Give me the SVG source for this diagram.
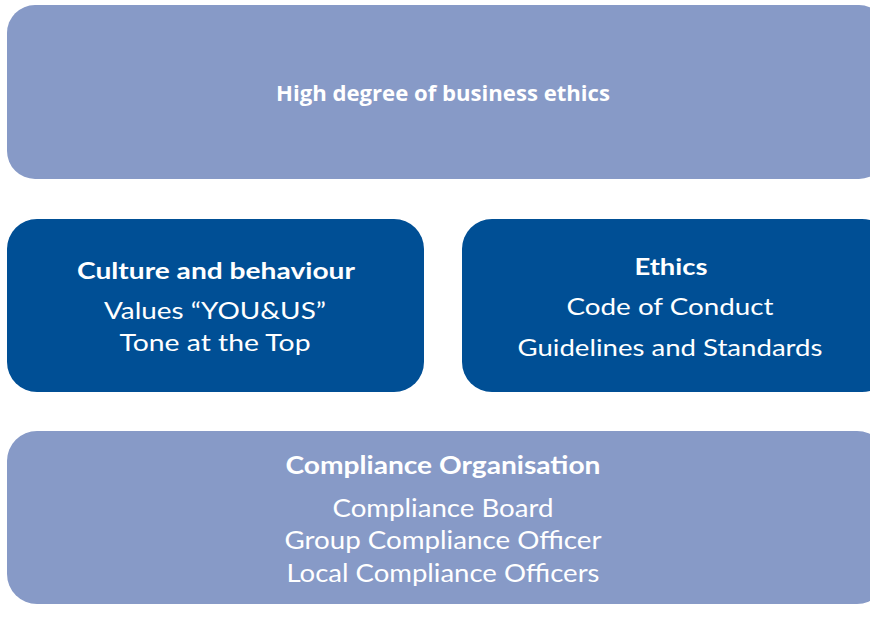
<svg xmlns="http://www.w3.org/2000/svg" width="870" height="623" viewBox="0 0 870 623">
  <style>
    .light { fill: #879AC7; }
    .dark { fill: #004F95; }
    text { fill: #FFFFFF; text-anchor: middle; font-family: "Lato", "Open Sans", "Liberation Sans", sans-serif; }
    .head { font-weight: bold; font-size: 23px; }
    .item { font-size: 23px; }
    .narrow { font-size: 25px; }
    .top { font-family: "Open Sans", "Liberation Sans", sans-serif; font-weight: bold; font-size: 21px; }
  </style>
  <rect width="870" height="623" fill="#FFFFFF"/>

  <!-- Top tier -->
  <g id="business-ethics">
    <rect class="light" x="7" y="5" width="880" height="174" rx="28" ry="28"/>
    <text class="top" x="443" y="101" textLength="334" lengthAdjust="spacingAndGlyphs">High degree of business ethics</text>
  </g>

  <!-- Middle tier -->
  <g id="culture">
    <rect class="dark" x="7" y="219" width="417" height="173" rx="30" ry="30"/>
    <text class="head" x="216" y="279" textLength="278" lengthAdjust="spacingAndGlyphs">Culture and behaviour</text>
    <text class="item" x="215" y="319" textLength="222" lengthAdjust="spacingAndGlyphs">Values “YOU&amp;US”</text>
    <text class="item" x="215" y="351" textLength="191" lengthAdjust="spacingAndGlyphs">Tone at the Top</text>
  </g>

  <g id="ethics">
    <rect class="dark" x="462" y="219" width="430" height="173" rx="30" ry="30"/>
    <text class="head" x="671" y="275" textLength="73" lengthAdjust="spacingAndGlyphs">Ethics</text>
    <text class="item" x="670" y="315" textLength="207" lengthAdjust="spacingAndGlyphs">Code of Conduct</text>
    <text class="item" x="670" y="356" textLength="305" lengthAdjust="spacingAndGlyphs">Guidelines and Standards</text>
  </g>

  <!-- Bottom tier -->
  <g id="compliance">
    <rect class="light" x="7" y="431" width="880" height="173" rx="30" ry="30"/>
    <text class="head narrow" x="443" y="474" textLength="315" lengthAdjust="spacingAndGlyphs">Compliance Organisation</text>
    <text class="item narrow" x="443" y="517" textLength="221" lengthAdjust="spacingAndGlyphs">Compliance Board</text>
    <text class="item narrow" x="443" y="549" textLength="317" lengthAdjust="spacingAndGlyphs">Group Compliance Officer</text>
    <text class="item narrow" x="443" y="582" textLength="313" lengthAdjust="spacingAndGlyphs">Local Compliance Officers</text>
  </g>

  <g id="connectors"/>
</svg>
